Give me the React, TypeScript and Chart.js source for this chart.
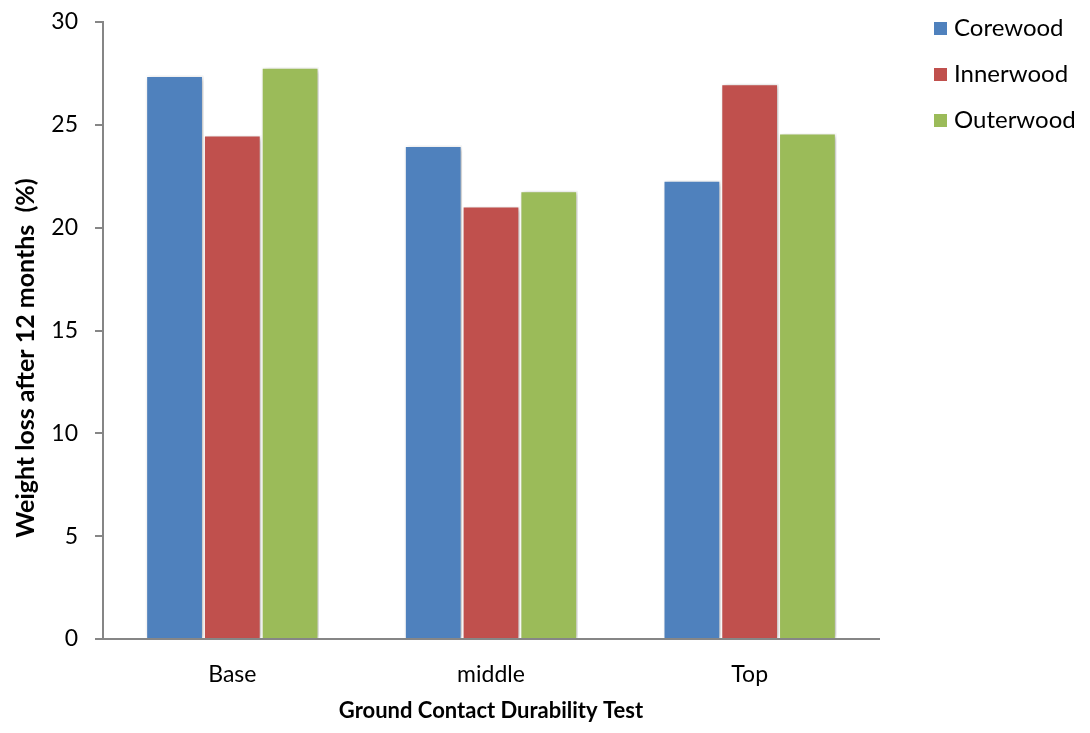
import React, { useEffect, useRef } from "react";
import { Chart, registerables } from "chart.js";

Chart.register(...registerables);

const categories = ["Base", "middle", "Top"];
const corewood = [27.4, 24.0, 22.3];
const innerwood = [24.5, 21.05, 27.0];
const outerwood = [27.8, 21.8, 24.6];
const seriesNames = ["Corewood", "Innerwood", "Outerwood"];
const seriesColors = ["#4F81BD", "#C0504D", "#9BBB59"];
const yTicks = [0, 5, 10, 15, 20, 25, 30];
const xTitle = "Ground Contact Durability Test";
const yTitle = "Weight loss after 12 months  (%)";

const FONT = "Lato, 'Open Sans', sans-serif";

const shadowPlugin = {
  id: "barShadow",
  beforeDatasetsDraw(chart: any) {
    const ctx = chart.ctx;
    ctx.save();
    ctx.shadowColor = "rgba(0,0,0,0.28)";
    ctx.shadowBlur = 5;
    ctx.shadowOffsetX = 2;
    ctx.shadowOffsetY = 1;
  },
  afterDatasetsDraw(chart: any) {
    chart.ctx.restore();
  },
};

const legendPlugin = {
  id: "customLegend",
  afterDraw(chart: any) {
    const ctx = chart.ctx;
    ctx.save();
    ctx.font = `24px ${FONT}`;
    ctx.textBaseline = "middle";
    ctx.textAlign = "left";
    chart.data.datasets.forEach((ds: any, i: number) => {
      const y = 28 + i * 46;
      ctx.fillStyle = ds.backgroundColor;
      ctx.fillRect(934, y - 6, 13, 13);
      ctx.fillStyle = "#000";
      ctx.fillText(ds.label, 954, y);
    });
    ctx.restore();
  },
};

const yTitlePlugin = {
  id: "yTitle",
  afterDraw(chart: any) {
    const ctx = chart.ctx;
    ctx.save();
    ctx.font = `bold 25px ${FONT}`;
    ctx.fillStyle = "#000";
    ctx.textAlign = "center";
    ctx.textBaseline = "middle";
    ctx.translate(26, 358);
    ctx.rotate(-Math.PI / 2);
    ctx.fillText(yTitle, 0, 0);
    ctx.restore();
  },
};

export default function App() {
  const ref = useRef<HTMLCanvasElement>(null);
  useEffect(() => {
    if (!ref.current) return;
    const values = [corewood, innerwood, outerwood];
    const chart = new Chart(ref.current, {
      type: "bar",
      data: {
        labels: categories,
        datasets: seriesNames.map((name, i) => ({
          label: name,
          data: values[i],
          backgroundColor: seriesColors[i],
          borderColor: "#FFFFFF",
          borderWidth: 1.5,
          categoryPercentage: 0.67,
          barPercentage: 1.0,
        })),
      },
      options: {
        animation: false,
        responsive: false,
        maintainAspectRatio: false,
        layout: { padding: { top: 22, right: 211, left: 0, bottom: 0 } },
        plugins: {
          legend: { display: false },
          tooltip: { enabled: false },
        },
        scales: {
          x: {
            grid: { display: false },
            border: { display: true, color: "#868686", width: 2 },
            ticks: {
              color: "#000",
              font: { family: FONT, size: 23 },
              padding: 14,
            },
            title: {
              display: true,
              text: xTitle,
              color: "#000",
              font: { family: FONT, size: 22, weight: "bold" },
              padding: { top: 0, bottom: 9 },
            },
            afterFit(scale: any) {
              scale.height = 733 - 639;
              scale.paddingLeft = 0;
              scale.paddingRight = 0;
            },
          },
          y: {
            min: 0,
            max: 30,
            afterBuildTicks(scale: any) {
              scale.ticks = yTicks.map((v) => ({ value: v }));
            },
            grid: {
              display: true,
              drawOnChartArea: false,
              drawTicks: true,
              tickLength: 8,
              color: "#868686",
              lineWidth: 2,
            },
            border: { display: true, color: "#868686", width: 2 },
            ticks: {
              color: "#000",
              font: { family: FONT, size: 23 },
              padding: 17,
            },
            title: { display: false },
            afterFit(scale: any) {
              scale.width = 103;
              scale.paddingTop = 0;
              scale.paddingBottom = 0;
            },
          },
        },
      },
      plugins: [shadowPlugin, legendPlugin, yTitlePlugin],
    });
    return () => chart.destroy();
  }, []);
  return (
    <div style={{ position: "fixed", left: 0, top: 0, width: 1090, height: 733, background: "#fff" }}>
      <canvas ref={ref} width={1090} height={733} style={{ display: "block" }} />
    </div>
  );
}
